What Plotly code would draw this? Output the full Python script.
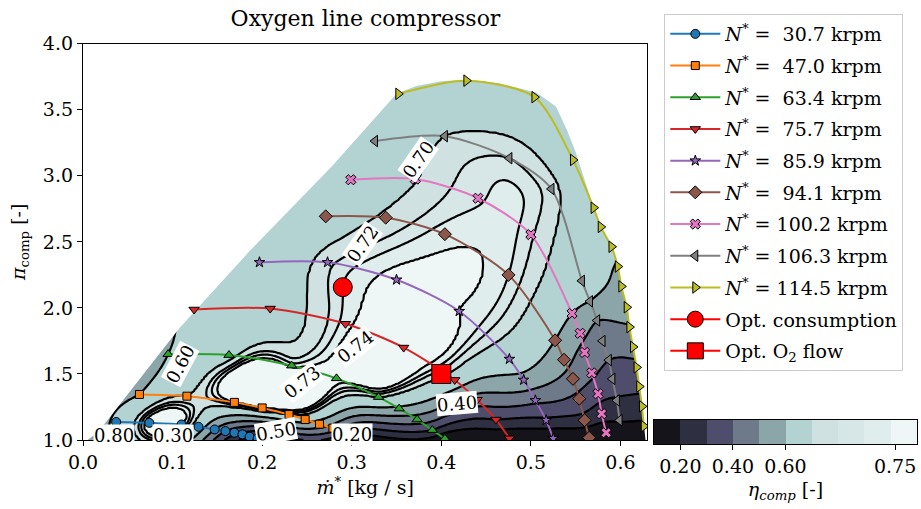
import numpy as np
import plotly.graph_objects as go

# ---------------- data ----------------
speeds = ["30.7", "47.0", "63.4", "75.7", "85.9", "94.1", "100.2", "106.3", "114.5"]

m_30 = [0.037, 0.074, 0.110, 0.129, 0.147, 0.159, 0.169, 0.178, 0.186, 0.195, 0.202]
p_30 = [1.137, 1.130, 1.118, 1.100, 1.080, 1.068, 1.055, 1.043, 1.025, 1.013, 1.005]
e_30 = [0.62, 0.76, 0.75, 0.65, 0.50, 0.40, 0.33, 0.27, 0.20, 0.15, 0.12]

m_47 = [0.063, 0.116, 0.169, 0.200, 0.230, 0.248, 0.264, 0.279, 0.293, 0.305]
p_47 = [1.345, 1.332, 1.285, 1.243, 1.193, 1.155, 1.120, 1.090, 1.055, 1.025]
e_47 = [0.60, 0.70, 0.745, 0.75, 0.70, 0.64, 0.55, 0.45, 0.30, 0.18]

m_63 = [0.095, 0.163, 0.233, 0.283, 0.330, 0.353, 0.373, 0.390, 0.404]
p_63 = [1.650, 1.643, 1.563, 1.467, 1.325, 1.238, 1.155, 1.075, 1.010]
e_63 = [0.60, 0.68, 0.735, 0.745, 0.70, 0.58, 0.45, 0.30, 0.12]

m_75 = [0.124, 0.209, 0.293, 0.358, 0.415, 0.440, 0.461, 0.476]
p_75 = [1.988, 1.995, 1.880, 1.700, 1.455, 1.305, 1.155, 1.013]
e_75 = [0.62, 0.67, 0.735, 0.745, 0.66, 0.45, 0.30, 0.10]

m_85 = [0.197, 0.273, 0.350, 0.420, 0.476, 0.492, 0.505, 0.517, 0.525]
p_85 = [2.345, 2.345, 2.213, 1.975, 1.613, 1.455, 1.300, 1.150, 1.013]
e_85 = [0.645, 0.715, 0.745, 0.74, 0.65, 0.57, 0.42, 0.28, 0.10]

m_94 = [0.271, 0.338, 0.404, 0.475, 0.527, 0.537, 0.547, 0.554, 0.560, 0.565]
p_94 = [2.693, 2.683, 2.558, 2.250, 1.755, 1.608, 1.463, 1.313, 1.150, 1.017]
e_94 = [0.665, 0.705, 0.735, 0.73, 0.60, 0.53, 0.46, 0.37, 0.26, 0.10]

m_100 = [0.299, 0.371, 0.441, 0.500, 0.546, 0.555, 0.560, 0.568, 0.575, 0.579, 0.584]
p_100 = [2.970, 2.975, 2.830, 2.555, 1.958, 1.808, 1.663, 1.508, 1.350, 1.200, 1.055]
e_100 = [0.665, 0.698, 0.728, 0.722, 0.60, 0.53, 0.47, 0.42, 0.33, 0.25, 0.12]

m_106 = [0.326, 0.404, 0.476, 0.523, 0.557, 0.566, 0.574, 0.580, 0.587, 0.591, 0.596, 0.599]
p_106 = [3.263, 3.300, 3.133, 2.900, 2.205, 2.050, 1.905, 1.750, 1.605, 1.463, 1.300, 1.150]
e_106 = [0.655, 0.70, 0.72, 0.71, 0.64, 0.60, 0.50, 0.45, 0.40, 0.35, 0.29, 0.21]

m_114 = [0.352, 0.428, 0.504, 0.547, 0.570, 0.578, 0.590, 0.597, 0.601, 0.607, 0.610,
         0.614, 0.618, 0.621, 0.624, 0.626]
p_114 = [3.620, 3.720, 3.595, 3.120, 2.758, 2.613, 2.463, 2.313, 2.163, 2.005, 1.855,
         1.705, 1.550, 1.405, 1.255, 1.105]
e_114 = [0.63, 0.64, 0.65, 0.66, 0.65, 0.64, 0.62, 0.595, 0.585, 0.56, 0.49,
         0.43, 0.38, 0.32, 0.26, 0.17]

opt_cons_m, opt_cons_pi = [0.290], [2.157]
opt_o2_m, opt_o2_pi = [0.400], [1.500]

# outer edge of the coloured map (surge side, top, choke side)
edge_m = [0.005, 0.017, 0.108, 0.186, 0.279, 0.350, 0.372, 0.400, 0.430, 0.465, 0.506,
          0.528, 0.540, 0.550, 0.560, 0.570, 0.578, 0.590, 0.597, 0.601, 0.607, 0.610,
          0.614, 0.618, 0.621, 0.624, 0.626, 0.628]
edge_pi = [1.000, 1.060, 1.850, 2.430, 3.080, 3.620, 3.680, 3.715, 3.728, 3.700, 3.630,
           3.525, 3.350, 3.180, 2.960, 2.758, 2.613, 2.463, 2.313, 2.163, 2.005, 1.855,
           1.705, 1.550, 1.405, 1.255, 1.105, 1.000]

# efficiency levels of the filled contour
levels = [0.10, 0.20, 0.30, 0.40, 0.50, 0.60, 0.70, 0.72, 0.73, 0.74, 0.80]
level_colors = ["#15141b", "#2e2f40", "#4e4d6b", "#6e7a89", "#8ca5a8",
                "#b3d2d2", "#cfe1e1", "#d7e6e6", "#e0eded", "#eef6f6"]
cbar_ticks = [0.20, 0.40, 0.60, 0.75]

# inline contour labels
clab_text = ["0.70", "0.72", "0.73", "0.74", "0.60", "0.40", "0.50", "0.20", "0.80", "0.30"]
clab_m = [0.374, 0.312, 0.244, 0.304, 0.108, 0.417, 0.215, 0.300, 0.035, 0.100]
clab_pi = [3.125, 2.490, 1.437, 1.710, 1.575, 1.275, 1.065, 1.045, 1.035, 1.035]
clab_ang = [-55, -55, -38, -38, -62, -5, -10, 0, 0, 0]

colors = ["#1f77b4", "#ff7f0e", "#2ca02c", "#d62728", "#9467bd",
          "#8c564b", "#e377c2", "#7f7f7f", "#bcbd22"]
symbols = ["circle", "square", "triangle-up", "triangle-down", "star",
           "diamond", "x", "triangle-left", "triangle-right"]
msizes = [9, 8, 9, 9, 8, 10, 9, 10, 10]

lines_m = [m_30, m_47, m_63, m_75, m_85, m_94, m_100, m_106, m_114]
lines_p = [p_30, p_47, p_63, p_75, p_85, p_94, p_100, p_106, p_114]
lines_e = [e_30, e_47, e_63, e_75, e_85, e_94, e_100, e_106, e_114]

# ---------------- efficiency field (thin plate spline through the points) ----------------
X_RANGE = [0.0, 0.63]
Y_RANGE = [1.0, 4.0]
pm = np.concatenate([np.array(a, float) for a in lines_m])
pp = np.concatenate([np.array(a, float) for a in lines_p])
pe = np.concatenate([np.array(a, float) for a in lines_e])
su, sv = 896 / 400.0, 133.3 / 400.0
U, V = pm * su, (pp - 1) * sv


def phi(r):
    with np.errstate(divide="ignore", invalid="ignore"):
        out = r ** 2 * np.log(r)
    return np.nan_to_num(out)


n = len(pm)
D = np.sqrt((U[:, None] - U[None, :]) ** 2 + (V[:, None] - V[None, :]) ** 2)
K = phi(D) + 2e-4 * np.eye(n)
Pm = np.column_stack([np.ones(n), U, V])
A = np.block([[K, Pm], [Pm.T, np.zeros((3, 3))]])
sol = np.linalg.solve(A, np.concatenate([pe, np.zeros(3)]))
w, a = sol[:n], sol[n:]

gm = np.linspace(X_RANGE[0], X_RANGE[1], 230)
gp = np.linspace(Y_RANGE[0], Y_RANGE[1], 260)
GM, GP = np.meshgrid(gm, gp)
GU, GV = GM.ravel() * su, (GP.ravel() - 1) * sv
Dg = np.sqrt((GU[:, None] - U[None, :]) ** 2 + (GV[:, None] - V[None, :]) ** 2)
eta = phi(Dg) @ w + a[0] + a[1] * GU + a[2] * GV
eta = np.clip(eta, levels[0] + 1e-3, levels[-1] - 1e-3).reshape(GM.shape)
zidx = np.interp(eta, levels, np.arange(len(levels)))

nlev = len(levels)  # 11 boundaries -> 10 bands
ncs = nlev  # plotly maps colours over nlev+1 slots for filled contours
cscale = [[0.0, level_colors[0]]]
for k, c in enumerate(level_colors):
    cscale.append([(k + 1) / ncs, c])
cscale.append([1.0, level_colors[-1]])

SERIF = "DejaVu Serif"
fig = go.Figure()

fig.add_trace(go.Contour(
    x=gm, y=gp, z=zidx, autocontour=False,
    contours=dict(start=0, end=nlev - 1, size=1, coloring="fill", showlabels=False),
    colorscale=cscale, showscale=False,
    line=dict(color="black", width=2.2, smoothing=1.0),
    hoverinfo="skip", showlegend=False,
))

# white mask outside the map edge
mask_x = [X_RANGE[0]] + edge_m + [X_RANGE[1], X_RANGE[1], X_RANGE[0], X_RANGE[0]]
mask_y = [Y_RANGE[0]] + edge_pi + [Y_RANGE[0], Y_RANGE[1], Y_RANGE[1], Y_RANGE[0]]
fig.add_trace(go.Scatter(x=mask_x, y=mask_y, fill="toself", fillcolor="white",
                         mode="lines", line=dict(width=0, color="white"),
                         hoverinfo="skip", showlegend=False))

for i, s in enumerate(speeds):
    name = "<i>N</i><sup>*</sup> = " + ("\u00a0" if len(s) == 4 else "") + s + " krpm"
    fig.add_trace(go.Scatter(
        x=lines_m[i], y=lines_p[i], mode="lines+markers", name=name,
        legendgroup=name,
        line=dict(color=colors[i], width=2, shape="spline", smoothing=0.8),
        marker=dict(symbol=symbols[i], size=msizes[i], color=colors[i],
                    line=dict(color="black", width=1)),
    ))

fig.add_trace(go.Scatter(x=opt_cons_m, y=opt_cons_pi, mode="lines+markers",
                         name="Opt. consumption", legendgroup="oc",
                         line=dict(color="red", width=2),
                         marker=dict(symbol="circle", size=19, color="red",
                                     line=dict(color="black", width=1))))
fig.add_trace(go.Scatter(x=opt_o2_m, y=opt_o2_pi, mode="lines+markers",
                         name="Opt. O<sub>2</sub> flow", legendgroup="oo",
                         line=dict(color="red", width=2),
                         marker=dict(symbol="square", size=19, color="red",
                                     line=dict(color="black", width=1))))

# colour bar built from the level list
band_idx = np.arange(nlev - 1)
fig.add_trace(go.Heatmap(
    x=band_idx + 0.5, y=[0.5], z=[band_idx], xaxis="x2", yaxis="y2",
    colorscale=[[k / (nlev - 2), c] for k, c in enumerate(level_colors)],
    zmin=0, zmax=nlev - 2, showscale=False, hoverinfo="skip",
))
cb_tickvals = list(np.interp(cbar_ticks, levels, np.arange(nlev)))

for t, xm, yp, ang in zip(clab_text, clab_m, clab_pi, clab_ang):
    fig.add_annotation(x=xm, y=yp, text=t, textangle=ang, showarrow=False,
                       font=dict(family=SERIF, size=18, color="black"),
                       bgcolor="white", borderpad=0)

W, H = 921, 509
L, R, T, B = 83, 3, 9, 65
pw, ph = W - L - R, H - T - B
main_right, main_top, main_bottom = 648, 39, 440
xdom_main = [0, (main_right - L) / pw]
ydom_main = [(H - B - main_bottom) / ph, (H - B - main_top) / ph]

axis_common = dict(showline=True, mirror=True, linecolor="black", linewidth=1.3,
                   ticks="outside", ticklen=5, tickwidth=1.2, tickcolor="black",
                   showgrid=False, zeroline=False,
                   tickfont=dict(family=SERIF, size=19, color="black"))

fig.update_layout(
    width=W, height=H, margin=dict(l=L, r=R, t=T, b=B),
    paper_bgcolor="white", plot_bgcolor="white",
    font=dict(family=SERIF, color="black"),
    title=dict(text="Oxygen line compressor", font=dict(family=SERIF, size=22),
               x=(L + main_right) / 2 / W, xanchor="center", xref="container",
               y=1 - 18 / H, yanchor="middle", yref="container"),
    xaxis=dict(domain=xdom_main, range=X_RANGE, tickvals=[0, 0.1, 0.2, 0.3, 0.4, 0.5, 0.6],
               tickformat=".1f", anchor="y",
               title=dict(text="<i>ṁ</i><sup>*</sup> [kg / s]",
                          font=dict(family=SERIF, size=19), standoff=8),
               **axis_common),
    yaxis=dict(domain=ydom_main, range=Y_RANGE, dtick=0.5, tickformat=".1f", anchor="x",
               title=dict(text="<i>π</i><sub>comp</sub> [-]",
                          font=dict(family=SERIF, size=19), standoff=12),
               **axis_common),
    xaxis2=dict(domain=[(654.7 - L) / pw, 1.0], range=[0, nlev - 1], anchor="y2",
                tickvals=cb_tickvals, ticktext=[f"{v:.2f}" for v in cbar_ticks],
                title=dict(text="<i>η<sub>comp</sub></i> [-]",
                           font=dict(family=SERIF, size=19), standoff=6),
                **axis_common),
    yaxis2=dict(domain=[0, (H - B - 419.7) / ph], range=[0, 1], anchor="x2",
                showline=True, mirror=True, linecolor="black", linewidth=1.3,
                showticklabels=False, ticks="", showgrid=False, zeroline=False),
    legend=dict(x=(665 - L) / pw, y=1.0, xanchor="left", yanchor="top",
                bgcolor="white", bordercolor="#cccccc", borderwidth=1,
                font=dict(family=SERIF, size=19, color="black"),
                itemwidth=50,
                traceorder="grouped", tracegroupgap=4),
)

fig.write_html("out.html")
